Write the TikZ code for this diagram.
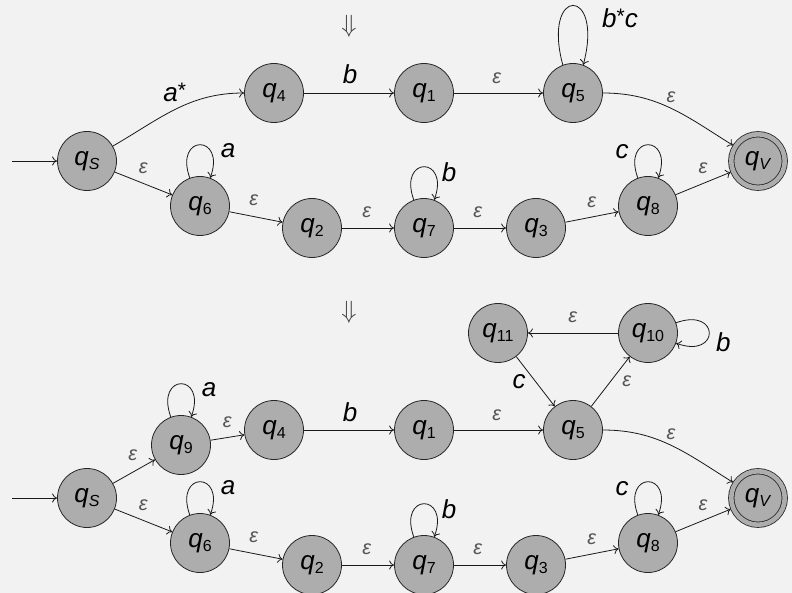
\documentclass[tikz,border=0pt]{standalone}
\usepackage{fontspec}
\setmainfont{Liberation Sans}
\usetikzlibrary{arrows.meta}
\definecolor{bgc}{HTML}{F2F2F2}
\definecolor{ngray}{HTML}{ADADAD}
\definecolor{epsc}{HTML}{555555}
\newcommand\qn[1]{\textit{q}\raisebox{-4.5pt}{\fontsize{16}{16}\selectfont #1}}
\newcommand\myeps{\textcolor{epsc}{\fontsize{20}{20}\selectfont\textit{ε}}}
\newcommand\stsup{\raisebox{4pt}{\fontsize{21}{21}\selectfont\upshape *}}
\tikzset{
  st/.style={circle, draw=black!85, fill=ngray, line width=0.8pt, minimum size=59pt,
    inner sep=0pt, font=\fontsize{26}{26}\selectfont},
  acc/.style={st, minimum size=53.5pt, double=ngray, double distance=4.6pt, outer sep=2.75pt},
  edgeln/.style={->, line width=0.8pt, draw=black!90},
  lab/.style={inner sep=0pt, font=\fontsize{26}{26}\selectfont\itshape},
  elab/.style={inner sep=0pt},
  darr/.style={inner sep=0pt, text=black!75, font=\fontsize{28}{28}\selectfont},
  >={To[length=5pt,width=9pt]}
}
\begin{document}
\begin{tikzpicture}[x=1pt,y=1pt]
\useasboundingbox (0,0) rectangle (792,-593);
\fill[bgc] (0,0) rectangle (792,-593);

% ---------- top ----------
\node[darr] (da) at (349,-26) {$\Downarrow$};
\node[st] (qSa) at (87,-161) {\qn{\textit{S}}};
\node[st] (q4a) at (274,-93) {\qn{4}};
\node[st] (q1a) at (424,-93) {\qn{1}};
\node[st] (q5a) at (573,-93) {\qn{5}};
\node[acc] (qVa) at (758,-161) {\qn{\textit{V}}};
\node[st] (q6a) at (200,-206) {\qn{6}};
\node[st] (q2a) at (312,-228) {\qn{2}};
\node[st] (q7a) at (424,-228) {\qn{7}};
\node[st] (q3a) at (536,-228) {\qn{3}};
\node[st] (q8a) at (648,-206) {\qn{8}};
\coordinate (sa) at (12,-161);

\draw[edgeln] (sa) -- (qSa);
\draw[edgeln] (qSa) to[out=30,in=180] node[lab, xshift=-1pt, yshift=17pt] {a\stsup} (q4a);
\draw[edgeln] (q4a) -- node[lab, xshift=1pt, yshift=19pt] {b} (q1a);
\draw[edgeln] (q1a) -- node[elab, xshift=-1.5pt, yshift=15pt] {\myeps} (q5a);
\draw[edgeln] (q5a) to[out=0,in=148] node[elab, yshift=11pt] {\myeps} (qVa);
\draw[edgeln] (q5a.110) .. controls +(105:82) and +(75:82) .. node[lab, xshift=47pt, yshift=-13pt] {b\stsup c} (q5a.70);
\draw[edgeln] (qSa) -- node[elab, yshift=15.5pt] {\myeps} (q6a);
\draw[edgeln] (q6a.110) .. controls +(110:47) and +(70:47) .. node[lab, xshift=28pt, yshift=-6pt] {a} (q6a.70);
\draw[edgeln] (q6a) -- node[elab, xshift=-2pt, yshift=17pt] {\myeps} (q2a);
\draw[edgeln] (q2a) -- node[elab, xshift=-1pt, yshift=16pt] {\myeps} (q7a);
\draw[edgeln] (q7a.110) .. controls +(110:47) and +(70:47) .. node[lab, xshift=25pt, yshift=-5pt] {b} (q7a.70);
\draw[edgeln] (q7a) -- node[elab, xshift=-2pt, yshift=16pt] {\myeps} (q3a);
\draw[edgeln] (q3a) -- node[elab, yshift=15pt] {\myeps} (q8a);
\draw[edgeln] (q8a.110) .. controls +(110:47) and +(70:47) .. node[lab, xshift=-26pt, yshift=-7pt] {c} (q8a.70);
\draw[edgeln] (q8a) -- node[elab, yshift=15.5pt] {\myeps} (qVa);

% ---------- bottom ----------
\node[darr] (db) at (349,-312) {$\Downarrow$};
\node[st] (qSb) at (87,-498) {\qn{\textit{S}}};
\node[st] (q9b) at (181,-445) {\qn{9}};
\node[st] (q4b) at (274,-430) {\qn{4}};
\node[st] (q1b) at (424,-430) {\qn{1}};
\node[st] (q5b) at (573,-430) {\qn{5}};
\node[st] (q11b) at (498,-333) {\qn{11}};
\node[st] (q10b) at (648,-333) {\qn{10}};
\node[acc] (qVb) at (758,-498) {\qn{\textit{V}}};
\node[st] (q6b) at (200,-543) {\qn{6}};
\node[st] (q2b) at (312,-565) {\qn{2}};
\node[st] (q7b) at (424,-565) {\qn{7}};
\node[st] (q3b) at (536,-565) {\qn{3}};
\node[st] (q8b) at (648,-543) {\qn{8}};
\coordinate (sb) at (12,-498);

\draw[edgeln] (sb) -- (qSb);
\draw[edgeln] (qSb) -- node[elab, xshift=-1pt, yshift=16.5pt] {\myeps} (q9b);
\draw[edgeln] (q9b.110) .. controls +(110:47) and +(70:47) .. node[lab, xshift=28pt, yshift=-6pt] {a} (q9b.70);
\draw[edgeln] (q9b) -- node[elab, yshift=15.5pt] {\myeps} (q4b);
\draw[edgeln] (q4b) -- node[lab, xshift=1pt, yshift=18pt] {b} (q1b);
\draw[edgeln] (q1b) -- node[elab, xshift=-1.5pt, yshift=15pt] {\myeps} (q5b);
\draw[edgeln] (q5b) to[out=0,in=148] node[elab, yshift=11pt] {\myeps} (qVb);
\draw[edgeln] (q5b) -- node[elab, xshift=16.5pt] {\myeps} (q10b);
\draw[edgeln] (q10b.20) .. controls +(20:47) and +(-20:47) .. node[lab, xshift=14pt, yshift=-9pt] {b} (q10b.-20);
\draw[edgeln] (q10b) -- node[elab, yshift=16pt] {\myeps} (q11b);
\draw[edgeln] (q11b) -- node[lab, xshift=-16.5pt] {c} (q5b);
\draw[edgeln] (qSb) -- node[elab, yshift=15.5pt] {\myeps} (q6b);
\draw[edgeln] (q6b.110) .. controls +(110:47) and +(70:47) .. node[lab, xshift=28pt, yshift=-6pt] {a} (q6b.70);
\draw[edgeln] (q6b) -- node[elab, xshift=-2pt, yshift=17pt] {\myeps} (q2b);
\draw[edgeln] (q2b) -- node[elab, xshift=-1pt, yshift=16pt] {\myeps} (q7b);
\draw[edgeln] (q7b.110) .. controls +(110:47) and +(70:47) .. node[lab, xshift=25pt, yshift=-5pt] {b} (q7b.70);
\draw[edgeln] (q7b) -- node[elab, xshift=-2pt, yshift=16pt] {\myeps} (q3b);
\draw[edgeln] (q3b) -- node[elab, yshift=15pt] {\myeps} (q8b);
\draw[edgeln] (q8b.110) .. controls +(110:47) and +(70:47) .. node[lab, xshift=-26pt, yshift=-7pt] {c} (q8b.70);
\draw[edgeln] (q8b) -- node[elab, yshift=15.5pt] {\myeps} (qVb);
\end{tikzpicture}
\end{document}
